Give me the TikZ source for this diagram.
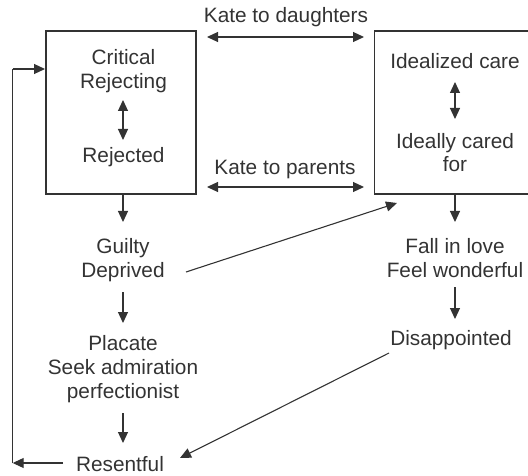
\documentclass[tikz,border=0pt]{standalone}
\usepackage{fontspec}
\setmainfont{Liberation Sans}
\usetikzlibrary{arrows.meta}
\definecolor{ink}{HTML}{333333}
\begin{document}
\begin{tikzpicture}[x=1pt,y=-1pt,
  every node/.style={inner sep=0pt,outer sep=0pt,text=ink},
  lbl/.style={font=\fontsize{20.8}{24}\selectfont,align=center,anchor=base},
  boxst/.style={draw=ink,line width=1.1pt,rectangle},
  con/.style={draw=ink,line width=1.1pt,-{Triangle[length=11pt,width=10pt]}},
  dcon/.style={draw=ink,line width=1.1pt,{Triangle[length=11pt,width=10pt]}-{Triangle[length=11pt,width=10pt]}},
  ln/.style={draw=ink,line width=1.1pt}]
\useasboundingbox (0,0) rectangle (528,476);
\clip (0,0) rectangle (528,476);
% boxes
\node[boxst,minimum width=150pt,minimum height=163pt] (L) at (121,112.5) {};
\node[boxst,minimum width=160pt,minimum height=163pt] (R) at (454.5,112.5) {};
% texts (base anchor = baseline of last line)
\node[lbl] (crit) at (123.5,89) {Critical\\Rejecting};
\node[lbl] (rej) at (123.5,163) {Rejected};
\node[lbl] (ideal) at (455,69) {Idealized care};
\node[lbl] (icf) at (455,172) {Ideally cared\\for};
\node[lbl] (kd) at (286,23) {Kate to daughters};
\node[lbl] (kp) at (285,175) {Kate to parents};
\node[lbl] (guilty) at (123,277) {Guilty\\Deprived};
\node[lbl] (placate) at (123,398) {Placate\\Seek admiration\\perfectionist};
\node[lbl] (resent) at (120,471) {Resentful};
\node[lbl] (fall) at (455,277) {Fall in love\\Feel wonderful};
\node[lbl] (disap) at (451,345) {Disappointed};
% coordinates
\coordinate (la1) at (123,100); \coordinate (la2) at (123,140);
\coordinate (ra1) at (455,82); \coordinate (ra2) at (455,119);
\coordinate (kd1) at (207,37); \coordinate (kd2) at (364,37);
\coordinate (kp1) at (207,187); \coordinate (kp2) at (364,187);
\coordinate (g1) at (123,222); \coordinate (p0) at (123,292); \coordinate (p1) at (123,323);
\coordinate (r0) at (123,413); \coordinate (r1) at (123,443);
\coordinate (f1) at (455,222); \coordinate (d0) at (455,287); \coordinate (d1) at (455,319);
\coordinate (gd) at (186,272); \coordinate (gt) at (397,203);
\coordinate (ds) at (389,353); \coordinate (dt) at (180,458);
\coordinate (rs) at (63,463); \coordinate (lb) at (12.7,463); \coordinate (lt) at (12.7,69); \coordinate (le) at (45,69);
% connectors
\draw[dcon] (la1) -- (la2);
\draw[dcon] (ra1) -- (ra2);
\draw[dcon] (kd1) -- (kd2);
\draw[dcon] (kp1) -- (kp2);
\draw[con] (L.south -| g1) -- (g1);
\draw[con] (p0) -- (p1);
\draw[con] (r0) -- (r1);
\draw[con] (R.south -| f1) -- (f1);
\draw[con] (d0) -- (d1);
\draw[con] (gd) -- (gt);
\draw[con] (ds) -- (dt);
\draw[con] (rs) -- (lb);
\draw[ln] (lb) -- (lt);
\draw[con] (lt) -- (le);
\end{tikzpicture}
\end{document}
